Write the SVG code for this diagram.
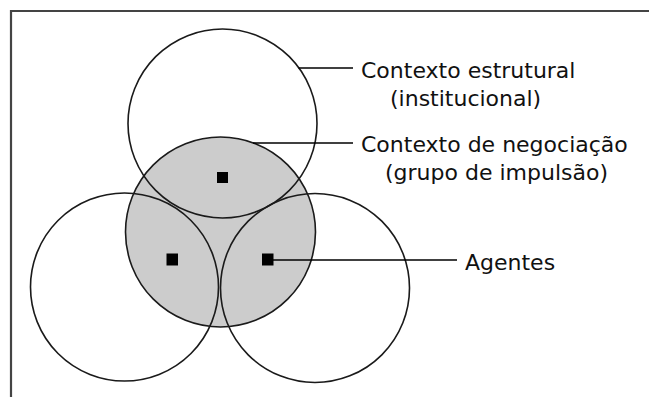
<svg xmlns="http://www.w3.org/2000/svg" width="649" height="397" viewBox="0 0 649 397">
<style>
.ring{fill:none;stroke:#1a1a1a;stroke-width:1.6}
.core{fill:#cccccc;stroke:#1a1a1a;stroke-width:1.6}
.dot{fill:#000}
.lead{stroke:#000;stroke-width:1.3;fill:none}
.lbl{font-family:"DejaVu Sans",sans-serif;font-size:22px;fill:#111}
.frame{stroke:#444;stroke-width:2.2;fill:none}
</style>
<rect width="649" height="397" fill="#fff"/>
<path class="frame" d="M11,397 V11 H649"/>
<g id="negociacao">
<circle class="core" cx="220.5" cy="232" r="95"/>
</g>
<g id="estrutural">
<circle class="ring" cx="222.5" cy="123.5" r="94.5"/>
</g>
<g id="esquerdo">
<circle class="ring" cx="124.5" cy="287" r="94"/>
</g>
<g id="direito">
<circle class="ring" cx="315" cy="288" r="94.5"/>
</g>
<g id="agentes">
<rect class="dot" x="217" y="172" width="11" height="11"/>
<rect class="dot" x="166.5" y="253.5" width="11.5" height="12"/>
<rect class="dot" x="262" y="253.5" width="11.5" height="12"/>
</g>
<g id="connectors">
<line class="lead" x1="298.5" y1="68" x2="353" y2="68"/>
<line class="lead" x1="253" y1="143" x2="353" y2="143"/>
<line class="lead" x1="273" y1="260" x2="457" y2="260"/>
</g>
<g id="labels">
<text class="lbl" x="361" y="78">Contexto estrutural</text>
<text class="lbl" x="390" y="106">(institucional)</text>
<text class="lbl" x="361" y="152">Contexto de negociação</text>
<text class="lbl" x="385" y="180">(grupo de impulsão)</text>
<text class="lbl" x="465" y="270">Agentes</text>
</g>
</svg>
